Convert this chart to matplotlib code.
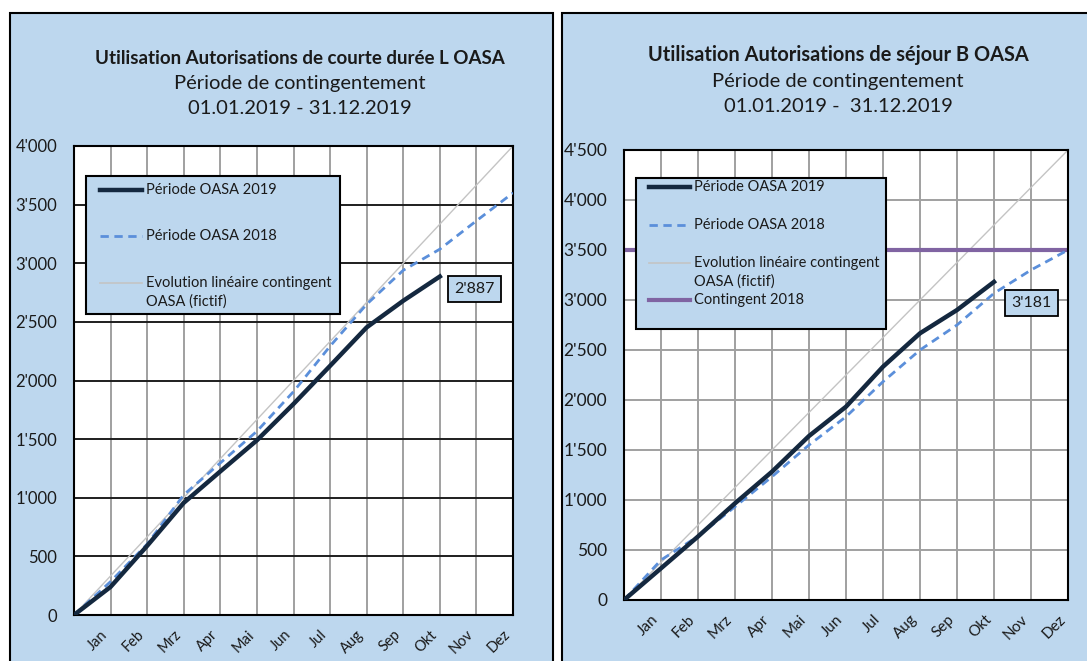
import matplotlib
matplotlib.use("Agg")
import matplotlib.pyplot as plt
import matplotlib.patches as pcs
from matplotlib.lines import Line2D
from matplotlib.ticker import FuncFormatter, MultipleLocator

# ---------------------------------------------------------------- data
months = ["Jan", "Feb", "Mrz", "Apr", "Mai", "Jun", "Jul", "Aug", "Sep", "Okt", "Nov", "Dez"]

# L permits (short term)
l_2019 = [0, 240, 590, 957, 1225, 1490, 1800, 2125, 2453, 2680, 2887]
l_2018 = [0, 285, 605, 1025, 1297, 1567, 1905, 2293, 2650, 2940, 3120, 3362, 3600]
l_linear = [0, 4000]

# B permits (residence)
b_2019 = [0, 317, 635, 967, 1283, 1640, 1933, 2333, 2667, 2900, 3181]
b_2018 = [0, 400, 637, 933, 1233, 1550, 1833, 2183, 2500, 2750, 3067, 3300, 3500]
b_linear = [0, 4500]
b_contingent = 3500

lab_2019 = "Période OASA 2019"
lab_2018 = "Période OASA 2018"
lab_lin = "Evolution linéaire contingent\nOASA (fictif)"
lab_cont = "Contingent 2018"

# ---------------------------------------------------------------- style
W, H = 1087, 661
bg_blue = "#BDD7EE"
col_2019 = "#14283F"
col_2018 = "#5B8FDA"
col_lin = "#C4C4C4"
col_cont = "#8064A2"
txt_col = "#1a1a1a"
dash = (0, (3, 2))

plt.rcParams["font.family"] = ["Lato", "DejaVu Sans"]


def fx(x):
    return x / W


def fy(y):
    return 1 - y / H


def px_box(x0, y0, x1, y1):
    # pixel box (top-left origin) -> figure fraction rect
    return [fx(x0), fy(y1), (x1 - x0) / W, (y1 - y0) / H]


def apos(v, pos=None):
    return "{:,}".format(int(v)).replace(",", "'")


def fig_legend(fig, box, hx, tx, rows, fs):
    # Excel-like legend box, drawn in pixel positions on the figure
    x0, y0, x1, y1 = box
    fig.patches.append(pcs.Rectangle((fx(x0), fy(y1)), (x1 - x0) / W, (y1 - y0) / H,
                                     transform=fig.transFigure, facecolor=bg_blue,
                                     edgecolor="black", linewidth=1.5, zorder=5))
    for y, label, kw in rows:
        fig.lines.append(Line2D([fx(hx[0]), fx(hx[1])], [fy(y), fy(y)],
                                transform=fig.transFigure, zorder=6, **kw))
        for i, s in enumerate(label.split("\n")):
            fig.text(fx(tx), fy(y + i * 19), s, ha="left", va="center", fontsize=fs,
                     color=txt_col, zorder=6)


def draw_panel(fig, panel, axbox, titles, title_y, title_x, fs_title, fs_sub,
               y2019, y2018, ylin, ymax, hgrid_col, fs_ytick, fs_xtick, xlab_pad,
               ann_offset, contingent=None):
    # panel background
    x0, y0, x1, y1 = panel
    fig.patches.append(pcs.Rectangle((fx(x0), fy(y1)), (x1 - x0) / W, (y1 - y0) / H,
                                     transform=fig.transFigure, facecolor=bg_blue,
                                     edgecolor="black", linewidth=1.5, zorder=-1))
    for i, (t, yy) in enumerate(zip(titles, title_y)):
        fig.text(fx(title_x), fy(yy), t, ha="center", va="center",
                 fontsize=fs_title if i == 0 else fs_sub,
                 fontweight="bold" if i == 0 else "normal", color=txt_col)

    ax = fig.add_axes(px_box(*axbox))
    ax.set_facecolor("white")
    ax.set_xlim(0, 12)
    ax.set_ylim(0, ymax)
    ax.yaxis.set_major_locator(MultipleLocator(500))
    ax.yaxis.set_major_formatter(FuncFormatter(apos))
    ax.set_xticks(range(1, 13))
    ax.set_xticklabels(months, rotation=45, ha="right")
    ax.tick_params(axis="y", length=0, pad=12, labelsize=fs_ytick, labelcolor=txt_col)
    ax.tick_params(axis="x", length=0, pad=xlab_pad, labelsize=fs_xtick, labelcolor=txt_col)
    ax.xaxis.grid(True, color="#A0A0A0", linewidth=1.4)
    ax.yaxis.grid(True, color=hgrid_col, linewidth=1.4)
    ax.set_axisbelow(True)
    for s in ax.spines.values():
        s.set_color("black")
        s.set_linewidth(1.5)

    ax.plot(range(len(y2019)), y2019, color=col_2019, lw=3.2, zorder=4)
    ax.plot(range(len(y2018)), y2018, color=col_2018, lw=2, ls=dash, zorder=3)
    ax.plot([0, 12], ylin, color=col_lin, lw=1, zorder=2)
    if contingent is not None:
        ax.axhline(contingent, color=col_cont, lw=3, zorder=2)

    last = len(y2019) - 1
    ax.annotate(apos(y2019[last]), (last, y2019[last]), xytext=ann_offset,
                textcoords="offset points", ha="center", va="center", fontsize=11.5,
                color=txt_col, zorder=6,
                bbox=dict(boxstyle="square,pad=0.38", facecolor=bg_blue,
                          edgecolor="black", linewidth=1.3))
    return ax


fig = plt.figure(figsize=(W / 100, H / 100), dpi=100)
fig.patch.set_facecolor("white")

h_2019 = dict(color=col_2019, lw=3.2)
h_2018 = dict(color=col_2018, lw=2, ls=dash)
h_lin = dict(color=col_lin, lw=1.2)
h_cont = dict(color=col_cont, lw=3)

# left: L permits
draw_panel(fig, (10, 13, 553, 700), (74, 146, 513, 615),
           ["Utilisation Autorisations de courte durée L OASA",
            "Période de contingentement", "01.01.2019 - 31.12.2019"],
           [59, 83, 108], 300, 13.5, 14.5,
           l_2019, l_2018, l_linear, 4000, "#1E1E1E", 12, 10.5, 9, (25, -9))
fig_legend(fig, (86, 176, 340, 314), (100, 142), 146,
           [(190, lab_2019, h_2019), (236, lab_2018, h_2018), (283, lab_lin, h_lin)], 10.5)

# right: B permits
draw_panel(fig, (562, 13, 1100, 700), (624, 150, 1068, 600),
           ["Utilisation Autorisations de séjour B OASA",
            "Période de contingentement", "01.01.2019 -  31.12.2019"],
           [55, 81, 106], 838, 14.4, 14.5,
           b_2019, b_2018, b_linear, 4500, "#A0A0A0", 12.5, 11, 9, (27, -15),
           contingent=b_contingent)
fig_legend(fig, (636, 178, 886, 329), (649, 690), 694,
           [(187, lab_2019, h_2019), (225, lab_2018, h_2018), (263, lab_lin, h_lin),
            (300, lab_cont, h_cont)], 10.5)

fig.savefig("out.png", dpi=100)
